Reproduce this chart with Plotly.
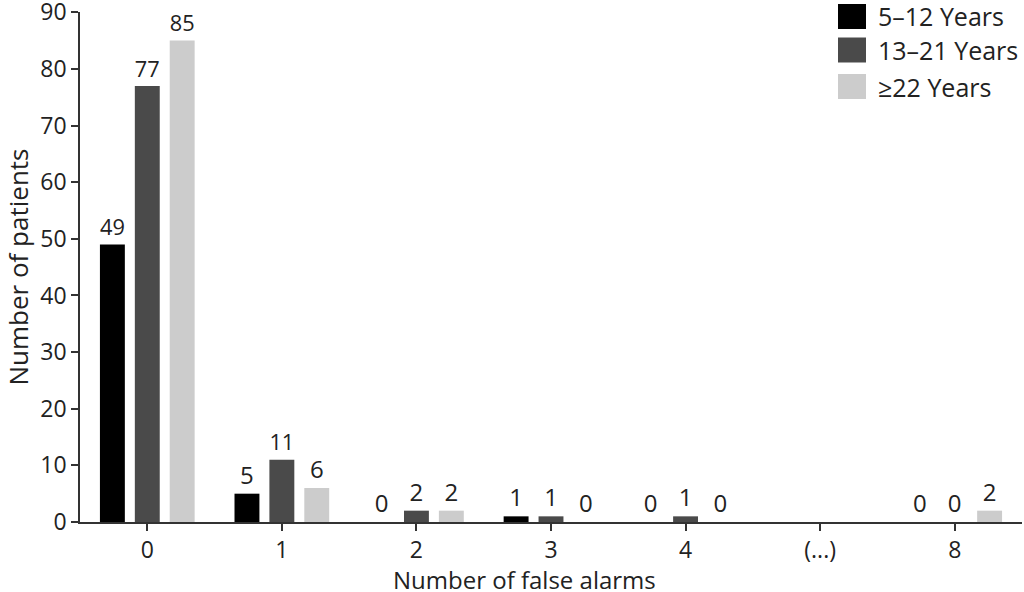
import plotly.graph_objects as go

categories = ["0", "1", "2", "3", "4", "(...)", "8"]
series_names = ["5\u201312 Years", "13\u201321 Years", "\u226522 Years"]
young = [49, 5, 0, 1, 0, None, 0]
middle = [77, 11, 2, 1, 1, None, 0]
older = [85, 6, 2, 0, 0, None, 2]
colors = ["#000000", "#4a4a4a", "#cccccc"]
y_ticks = [0, 10, 20, 30, 40, 50, 60, 70, 80, 90]

FONT = "Open Sans"
TXT = "#222222"

fig = go.Figure()
for name, vals, col in zip(series_names, [young, middle, older], colors):
    fig.add_trace(go.Bar(
        x=categories, y=vals, name=name, marker=dict(color=col, line=dict(width=0)),
        text=["" if v is None else str(v) for v in vals],
        textposition="outside", cliponaxis=False,
        textfont=dict(family=FONT, size=24, color=TXT),
        showlegend=False,
    ))

fig.update_layout(
    width=1024, height=592,
    margin=dict(l=80, r=2, t=12, b=70),
    paper_bgcolor="white", plot_bgcolor="white",
    barmode="group", bargap=0.222, bargroupgap=0.286,
    font=dict(family=FONT, size=22, color=TXT),
    xaxis=dict(
        type="category", range=[-0.5, 6.5], automargin=False,
        showline=True, linecolor="#333333", linewidth=1.5,
        ticks="outside", ticklen=7, tickcolor="#333333", tickwidth=1.5,
        tickfont=dict(family=FONT, size=23, color=TXT),
        ticklabeloverflow="allow",
        showgrid=False, zeroline=False,
    ),
    yaxis=dict(
        range=[0, 90.05], tickvals=y_ticks, automargin=False,
        showline=True, linecolor="#333333", linewidth=1.5,
        ticks="outside", ticklen=7, tickcolor="#333333", tickwidth=1.5,
        tickfont=dict(family=FONT, size=23, color=TXT),
        ticklabeloverflow="allow",
        title=dict(text="Number of patients", font=dict(family=FONT, size=26, color=TXT), standoff=12),
        showgrid=False, zeroline=False,
    ),
)

# x-axis title (placed slightly left of the plot centre, as in the reference)
fig.add_annotation(xref="paper", yref="paper", x=(524 - 80) / 942, y=(522 - 579) / 510,
                   text="Number of false alarms", showarrow=False,
                   xanchor="center", yanchor="middle",
                   font=dict(family=FONT, size=24, color=TXT))

# manual legend (large square swatches)
row_y = [(522 - 16.5) / 510, (522 - 50) / 510, (522 - 86.5) / 510]
half = 12.5 / 510
for name, col, yc in zip(series_names, colors, row_y):
    fig.add_shape(type="rect", xref="paper", yref="paper",
                  x0=(838 - 80) / 942, x1=(866 - 80) / 942, y0=yc - half, y1=yc + half,
                  fillcolor=col, line=dict(width=0))
    fig.add_annotation(xref="paper", yref="paper", x=(876 - 80) / 942, y=yc,
                       text=name, showarrow=False, xanchor="left", yanchor="middle",
                       font=dict(family=FONT, size=25, color=TXT))

fig.write_html("out.html", config={"displayModeBar": False},
               post_script="document.body.style.margin='0';document.body.style.overflow='hidden';")
